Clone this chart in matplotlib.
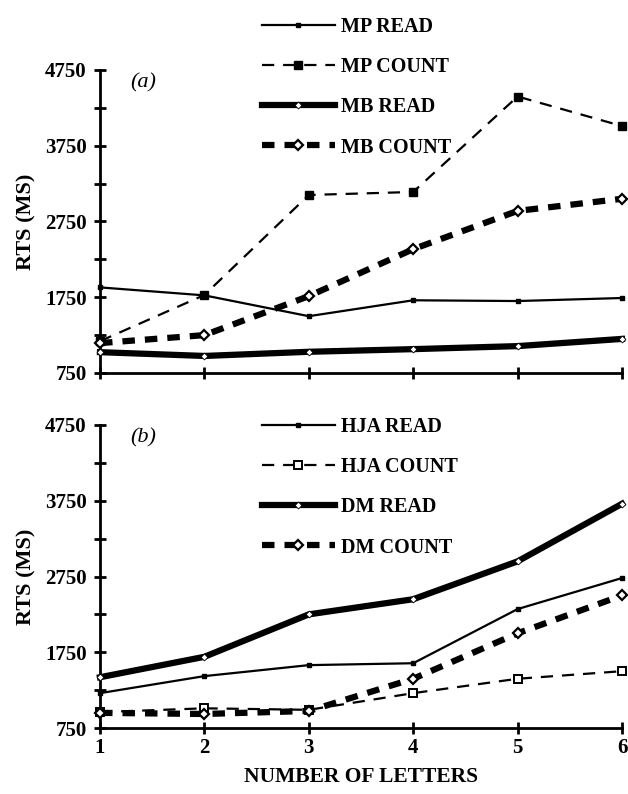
import numpy as np
import matplotlib.pyplot as plt

plt.rcParams['font.family'] = ['Liberation Serif', 'DejaVu Serif']
plt.rcParams['font.weight'] = 'bold'

letters = [1, 2, 3, 4, 5, 6]

# panel (a)
mp_read = [1880, 1775, 1500, 1710, 1700, 1740]
mp_count = [1170, 1780, 3100, 3140, 4400, 4010]
mb_read = [1025, 975, 1030, 1065, 1105, 1200]
mb_count = [1145, 1250, 1765, 2385, 2890, 3050]

# panel (b)
hja_read = [1210, 1435, 1580, 1605, 2320, 2730]
hja_count = [960, 1010, 990, 1210, 1400, 1500]
dm_read = [1420, 1690, 2250, 2450, 2950, 3710]
dm_count = [950, 935, 975, 1400, 2000, 2500]

ytick_labels = ['750', '1750', '2750', '3750', '4750']

fig = plt.figure(figsize=(6.28, 7.94), dpi=100)
ax_a = fig.add_axes([100/628, 1-373/794, 522/628, 303/794])
ax_b = fig.add_axes([100/628, 1-728/794, 522/628, 303/794])


def style_axis(ax, show_xlabels):
    ax.set_xlim(1, 6)
    ax.set_ylim(750, 4750)
    ax.spines['top'].set_visible(False)
    ax.spines['right'].set_visible(False)
    ax.spines['left'].set_linewidth(2)
    ax.spines['bottom'].set_linewidth(2)
    yt = np.arange(750, 4751, 500)
    ax.set_yticks(yt)
    ax.set_yticklabels([s if s in ytick_labels else '' for s in map(str, yt)])
    ax.set_xticks(letters)
    ax.tick_params(direction='inout', length=9, width=2, labelsize=15, pad=5)
    ax.tick_params(axis='x', pad=3)
    if show_xlabels:
        ax.set_xticklabels([str(v) for v in letters])
    else:
        ax.set_xticklabels([])
    for lab in ax.get_xticklabels() + ax.get_yticklabels():
        lab.set_fontweight('bold')
    ax.set_ylabel('RTS (MS)', fontsize=16, fontweight='bold', labelpad=6)


for ax in (ax_a, ax_b):
    style_axis(ax, ax is ax_b)

leg_kw = dict(loc='upper left', bbox_transform=fig.transFigure, frameon=False,
              handlelength=3.6, handletextpad=0.3, labelspacing=1.0,
              prop={'size': 14.5, 'weight': 'bold'})

# panel (a)
l1, = ax_a.plot(letters, mp_read, '-', color='black', lw=1.6,
                marker='s', ms=2.5, mfc='black', mec='black', clip_on=False, zorder=3)
l2, = ax_a.plot(letters, mp_count, '--', color='black', lw=1.6, dashes=(5.5, 4),
                marker='s', ms=5.5, mfc='black', mec='black', clip_on=False, zorder=3)
l3, = ax_a.plot(letters, mb_read, '-', color='black', lw=4.5,
                marker='D', ms=3.5, mfc='white', mec='black', mew=0.6, clip_on=False, zorder=3)
l4, = ax_a.plot(letters, mb_count, '--', color='black', lw=4.5, dashes=(2, 1.6),
                marker='D', ms=5, mfc='white', mec='black', mew=1.6, clip_on=False, zorder=3)
ax_a.legend([l1, l2, l3, l4], ['MP READ', 'MP COUNT', 'MB READ', 'MB COUNT'],
            bbox_to_anchor=(244/628, 1+1/794), **leg_kw)
ax_a.text(0.057, 0.99, '(a)', transform=ax_a.transAxes, fontsize=16, style='italic',
          fontweight='normal', va='top')

# panel (b)
h1, = ax_b.plot(letters, hja_read, '-', color='black', lw=1.6,
                marker='s', ms=2.5, mfc='black', mec='black', clip_on=False, zorder=3)
h2, = ax_b.plot(letters, hja_count, '--', color='black', lw=1.6, dashes=(5.5, 4),
                marker='s', ms=5.5, mfc='white', mec='black', mew=1.4, clip_on=False, zorder=3)
h3, = ax_b.plot(letters, dm_read, '-', color='black', lw=4.5,
                marker='D', ms=3.5, mfc='white', mec='black', mew=0.6, clip_on=False, zorder=3)
h4, = ax_b.plot(letters, dm_count, '--', color='black', lw=4.5, dashes=(2, 1.6),
                marker='D', ms=5, mfc='white', mec='black', mew=1.6, clip_on=False, zorder=3)
ax_b.legend([h1, h2, h3, h4], ['HJA READ', 'HJA COUNT', 'DM READ', 'DM COUNT'],
            bbox_to_anchor=(244/628, 1-399/794), **leg_kw)
ax_b.text(0.057, 0.99, '(b)', transform=ax_b.transAxes, fontsize=16, style='italic',
          fontweight='normal', va='top')

ax_b.set_xlabel('NUMBER OF LETTERS', fontsize=15.5, fontweight='bold', labelpad=6)

fig.savefig('out.png', dpi=100)
